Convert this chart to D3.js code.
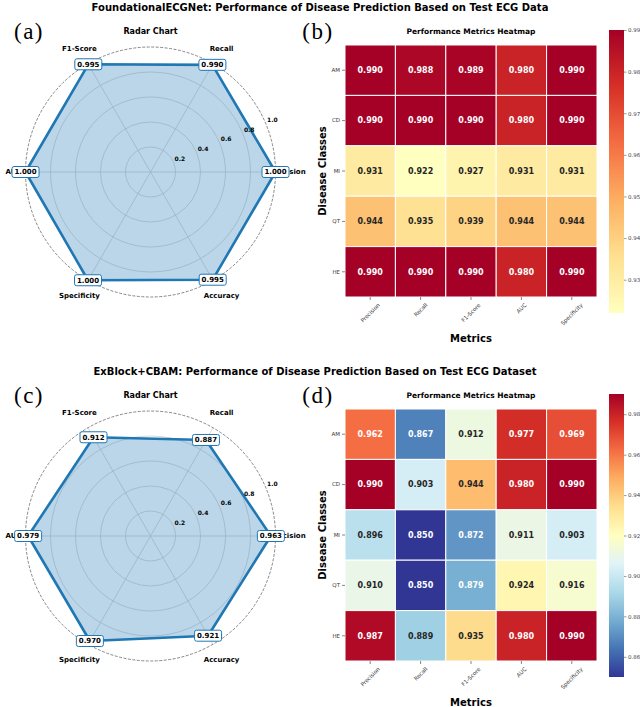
<!DOCTYPE html>
<html lang="en">
<head>
<meta charset="utf-8">
<title>ECG disease prediction performance</title>
<script src="https://d3js.org/d3.v7.min.js"></script>
<style>
  body { margin: 0; background: #fff; }
  text { font-family: "DejaVu Sans", sans-serif; }
</style>
</head>
<body>
<script>
// ---- data ----
var suptitles = ["FoundationalECGNet: Performance of Disease Prediction Based on Test ECG Data",
                 "ExBlock+CBAM: Performance of Disease Prediction Based on Test ECG Dataset"];
var panelLetters = [["(a)", "(b)"], ["(c)", "(d)"]];

// radar axes, counter-clockwise starting at 3 o'clock
var radarAxes = ["Precision", "Recall", "F1-Score", "AUC", "Specificity", "Accuracy"];
var radarTop = [1.000, 0.990, 0.995, 1.000, 1.000, 0.995];
var radarBottom = [0.963, 0.887, 0.912, 0.979, 0.970, 0.921];
var radarTicks = [0.2, 0.4, 0.6, 0.8, 1.0];

var metrics = ["Precision", "Recall", "F1-Score", "AUC", "Specificity"];
var classes = ["AM", "CD", "MI", "QT", "HE"];
var heatTop = [
  [0.990, 0.988, 0.989, 0.980, 0.990],
  [0.990, 0.990, 0.990, 0.980, 0.990],
  [0.931, 0.922, 0.927, 0.931, 0.931],
  [0.944, 0.935, 0.939, 0.944, 0.944],
  [0.990, 0.990, 0.990, 0.980, 0.990]
];
var heatBottom = [
  [0.962, 0.867, 0.912, 0.977, 0.969],
  [0.990, 0.903, 0.944, 0.980, 0.990],
  [0.896, 0.850, 0.872, 0.911, 0.903],
  [0.910, 0.850, 0.879, 0.924, 0.916],
  [0.987, 0.889, 0.935, 0.980, 0.990]
];
var cbDomainTop = [0.922, 0.990];
var cbDomainBottom = [0.850, 0.990];
var cbTicksTop = [0.93, 0.94, 0.95, 0.96, 0.97, 0.98, 0.99];
var cbTicksBottom = [0.86, 0.88, 0.90, 0.92, 0.94, 0.96, 0.98];

// ---- canvas ----
var width = 640, height = 707;
var svg = d3.select("body").append("svg")
    .attr("width", width)
    .attr("height", height);

var blue = "#1f77b4";

// colormaps, linear between brewer stops like matplotlib
var rdYlBu = d3.piecewise(d3.interpolateRgb, d3.schemeRdYlBu[11]);
var rdYlBuR = function(t) { return rdYlBu(1 - t); };
// top heatmap: warm half of RdYlBu_r (pale yellow -> crimson)
var colorTop = d3.scaleSequential(function(t) { return rdYlBuR(0.5 + 0.5 * t); }).domain(cbDomainTop);
var colorBottom = d3.scaleSequential(rdYlBuR).domain(cbDomainBottom);

// seaborn picks annotation colour by luminance
function annotColor(c) {
  var rgb = d3.rgb(c);
  var lin = [rgb.r, rgb.g, rgb.b].map(function(v) {
    v = v / 255;
    return v <= 0.03928 ? v / 12.92 : Math.pow((v + 0.055) / 1.055, 2.4);
  });
  var lum = 0.2126 * lin[0] + 0.7152 * lin[1] + 0.0722 * lin[2];
  return lum > 0.408 ? "#262626" : "#ffffff";
}

function drawPanel(oy, idx, radarVals, heatVals, color, cbDomain, cbTicks, titleX) {
  var g = svg.append("g").attr("transform", "translate(0," + oy + ")");

  g.append("text")
    .attr("x", titleX).attr("y", 7)
    .attr("dy", "0.35em")
    .attr("text-anchor", "middle")
    .attr("font-size", 10).attr("font-weight", "bold")
    .text(suptitles[idx]);

  // panel letters
  [[29, panelLetters[idx][0]], [318, panelLetters[idx][1]]].forEach(function(p) {
    g.append("text")
      .attr("x", p[0]).attr("y", 31)
      .attr("dy", "0.35em")
      .attr("text-anchor", "middle")
      .style("font-family", "'Liberation Serif', serif")
      .attr("font-size", 23)
      .attr("letter-spacing", 1.5)
      .text(p[1]);
  });

  // ---------- radar ----------
  var cx = 150.5, cy = 172, R = 125;
  var rad = g.append("g").attr("transform", "translate(" + cx + "," + cy + ")");
  var r = d3.scaleLinear().domain([0, 1]).range([0, R]);
  var theta = function(i) { return i * 2 * Math.PI / radarAxes.length; };

  g.append("text")
    .attr("x", cx).attr("y", 31)
    .attr("dy", "0.35em")
    .attr("text-anchor", "middle")
    .attr("font-size", 8).attr("font-weight", "bold")
    .text("Radar Chart");

  rad.selectAll("circle.grid")
    .data(radarTicks.slice(0, -1))
    .join("circle")
    .attr("class", "grid")
    .attr("r", function(d) { return r(d); })
    .attr("fill", "none")
    .attr("stroke", "#d0d0d0")
    .attr("stroke-width", 0.8);

  rad.selectAll("line.spoke")
    .data(radarAxes)
    .join("line")
    .attr("class", "spoke")
    .attr("x1", 0).attr("y1", 0)
    .attr("x2", function(d, i) { return r(1) * Math.cos(theta(i)); })
    .attr("y2", function(d, i) { return -r(1) * Math.sin(theta(i)); })
    .attr("stroke", "#d0d0d0")
    .attr("stroke-width", 0.8);

  rad.append("circle")
    .attr("r", r(1))
    .attr("fill", "none")
    .attr("stroke", "#555")
    .attr("stroke-width", 0.7)
    .attr("stroke-dasharray", "3,1.5");

  var line = d3.lineRadial()
    .angle(function(d, i) { return Math.PI / 2 - theta(i); })
    .radius(function(d) { return r(d); })
    .curve(d3.curveLinearClosed);

  rad.append("path")
    .attr("d", line(radarVals))
    .attr("fill", blue)
    .attr("fill-opacity", 0.3)
    .attr("stroke", blue)
    .attr("stroke-width", 2.6)
    .attr("stroke-linejoin", "round");

  rad.selectAll("circle.pt")
    .data(radarVals)
    .join("circle")
    .attr("class", "pt")
    .attr("cx", function(d, i) { return r(d) * Math.cos(theta(i)); })
    .attr("cy", function(d, i) { return -r(d) * Math.sin(theta(i)); })
    .attr("r", 3)
    .attr("fill", blue);

  // radial tick labels at 22.5 degrees
  var a = 22.5 * Math.PI / 180;
  rad.selectAll("text.rtick")
    .data(radarTicks)
    .join("text")
    .attr("class", "rtick")
    .attr("x", function(d) { return r(d) * Math.cos(a) + 1; })
    .attr("y", function(d) { return -r(d) * Math.sin(a) - 4; })
    .attr("dy", "0.35em")
    .attr("font-size", 6).attr("font-weight", "bold")
    .text(function(d) { return d.toFixed(1); });

  // axis labels
  rad.selectAll("text.axis")
    .data(radarAxes)
    .join("text")
    .attr("class", "axis")
    .attr("x", function(d, i) {
      var s = Math.abs(Math.sin(theta(i)));
      return (R + 12 + 6 * s) * Math.cos(theta(i));
    })
    .attr("y", function(d, i) {
      var s = Math.abs(Math.sin(theta(i)));
      return -(R + 12 + 6 * s) * Math.sin(theta(i));
    })
    .attr("dy", "0.35em")
    .attr("text-anchor", "middle")
    .attr("font-size", 7).attr("font-weight", "bold")
    .text(function(d) { return d; });

  // value boxes on vertices
  var boxes = rad.selectAll("g.vbox")
    .data(radarVals)
    .join("g")
    .attr("class", "vbox")
    .attr("transform", function(d, i) {
      return "translate(" + (r(d) * Math.cos(theta(i))) + "," + (-r(d) * Math.sin(theta(i))) + ")";
    });
  boxes.append("rect")
    .attr("x", -13.5).attr("y", -5.5)
    .attr("width", 27).attr("height", 11)
    .attr("rx", 2)
    .attr("fill", "#fff")
    .attr("stroke", blue)
    .attr("stroke-width", 1);
  boxes.append("text")
    .attr("dy", "0.35em")
    .attr("text-anchor", "middle")
    .attr("font-size", 7).attr("font-weight", "bold")
    .text(function(d) { return d.toFixed(3); });

  // ---------- heatmap ----------
  var hx0 = 345, hy0 = 45, cell = 50.4;
  var x = d3.scaleBand().domain(metrics).range([hx0, hx0 + cell * metrics.length]);
  var y = d3.scaleBand().domain(classes).range([hy0, hy0 + cell * classes.length]);

  g.append("text")
    .attr("x", hx0 + cell * 2.5).attr("y", 31)
    .attr("dy", "0.35em")
    .attr("text-anchor", "middle")
    .attr("font-size", 7.5).attr("font-weight", "bold")
    .text("Performance Metrics Heatmap");

  var cells = [];
  heatVals.forEach(function(row, ri) {
    row.forEach(function(v, ci) { cells.push({ c: classes[ri], m: metrics[ci], v: v }); });
  });

  g.selectAll("rect.cell")
    .data(cells)
    .join("rect")
    .attr("class", "cell")
    .attr("x", function(d) { return x(d.m); })
    .attr("y", function(d) { return y(d.c); })
    .attr("width", x.bandwidth())
    .attr("height", y.bandwidth())
    .attr("fill", function(d) { return color(d.v); })
    .attr("stroke", "#fff")
    .attr("stroke-width", 1);

  g.selectAll("text.annot")
    .data(cells)
    .join("text")
    .attr("class", "annot")
    .attr("x", function(d) { return x(d.m) + x.bandwidth() / 2; })
    .attr("y", function(d) { return y(d.c) + y.bandwidth() / 2; })
    .attr("dy", "0.35em")
    .attr("text-anchor", "middle")
    .attr("font-size", 8).attr("font-weight", "bold")
    .attr("fill", function(d) { return annotColor(color(d.v)); })
    .text(function(d) { return d.v.toFixed(3); });

  // y axis
  var yAxis = g.append("g")
    .attr("transform", "translate(" + hx0 + ",0)")
    .call(d3.axisLeft(y).tickSize(3).tickPadding(2));
  yAxis.select(".domain").remove();
  yAxis.selectAll("text").attr("font-size", 5.5).attr("fill", "#333")
    .style("font-family", "'DejaVu Sans', sans-serif");
  yAxis.selectAll("line").attr("stroke", "#333").attr("stroke-width", 0.6);

  // x axis with 45 degree labels
  var hb = y.range()[1];
  var xAxis = g.append("g")
    .attr("transform", "translate(0," + hb + ")")
    .call(d3.axisBottom(x).tickSize(3));
  xAxis.select(".domain").remove();
  xAxis.selectAll("line").attr("stroke", "#333").attr("stroke-width", 0.6);
  xAxis.selectAll("text")
    .attr("font-size", 5.5).attr("fill", "#333")
    .style("font-family", "'DejaVu Sans', sans-serif")
    .attr("dy", "0.35em")
    .attr("text-anchor", "middle")
    .each(function() {
      var w = this.getComputedTextLength();
      var yc = 5 + (w + 6) / (2 * Math.SQRT2);
      d3.select(this).attr("y", yc).attr("transform", "rotate(-45,0," + yc + ")");
    });

  g.append("text")
    .attr("x", hx0 + cell * 2.5).attr("y", 338)
    .attr("dy", "0.35em")
    .attr("text-anchor", "middle")
    .attr("font-size", 10).attr("font-weight", "bold")
    .text("Metrics");

  g.append("text")
    .attr("transform", "translate(322," + (hy0 + cell * 2.5) + ") rotate(-90)")
    .attr("dy", "0.35em")
    .attr("text-anchor", "middle")
    .attr("font-size", 10).attr("font-weight", "bold")
    .text("Disease Classes");

  // ---------- colorbar ----------
  var cbx = 609, cbw = 15, cbTop = 30, cbBot = 313;
  var cbScale = d3.scaleLinear().domain(cbDomain).range([cbBot, cbTop]);
  var gradId = "grad" + idx;
  var grad = svg.append("defs").append("linearGradient")
    .attr("id", gradId)
    .attr("x1", 0).attr("y1", 1).attr("x2", 0).attr("y2", 0);
  d3.range(0, 1.0001, 0.05).forEach(function(t) {
    grad.append("stop")
      .attr("offset", t)
      .attr("stop-color", color(cbDomain[0] + t * (cbDomain[1] - cbDomain[0])));
  });
  g.append("rect")
    .attr("x", cbx).attr("y", cbTop)
    .attr("width", cbw).attr("height", cbBot - cbTop)
    .attr("fill", "url(#" + gradId + ")");

  var cbAxis = g.append("g")
    .attr("transform", "translate(" + (cbx + cbw) + ",0)")
    .call(d3.axisRight(cbScale).tickValues(cbTicks).tickSize(2.5).tickPadding(1.5)
      .tickFormat(d3.format(".2f")));
  cbAxis.select(".domain").remove();
  cbAxis.selectAll("line").attr("stroke", "#555").attr("stroke-width", 0.6);
  cbAxis.selectAll("text").attr("font-size", 5.5).attr("fill", "#444")
    .style("font-family", "'DejaVu Sans', sans-serif");
}

drawPanel(0, 0, radarTop, heatTop, colorTop, cbDomainTop, cbTicksTop, 320);
drawPanel(364, 1, radarBottom, heatBottom, colorBottom, cbDomainBottom, cbTicksBottom, 315);
</script>
</body>
</html>
